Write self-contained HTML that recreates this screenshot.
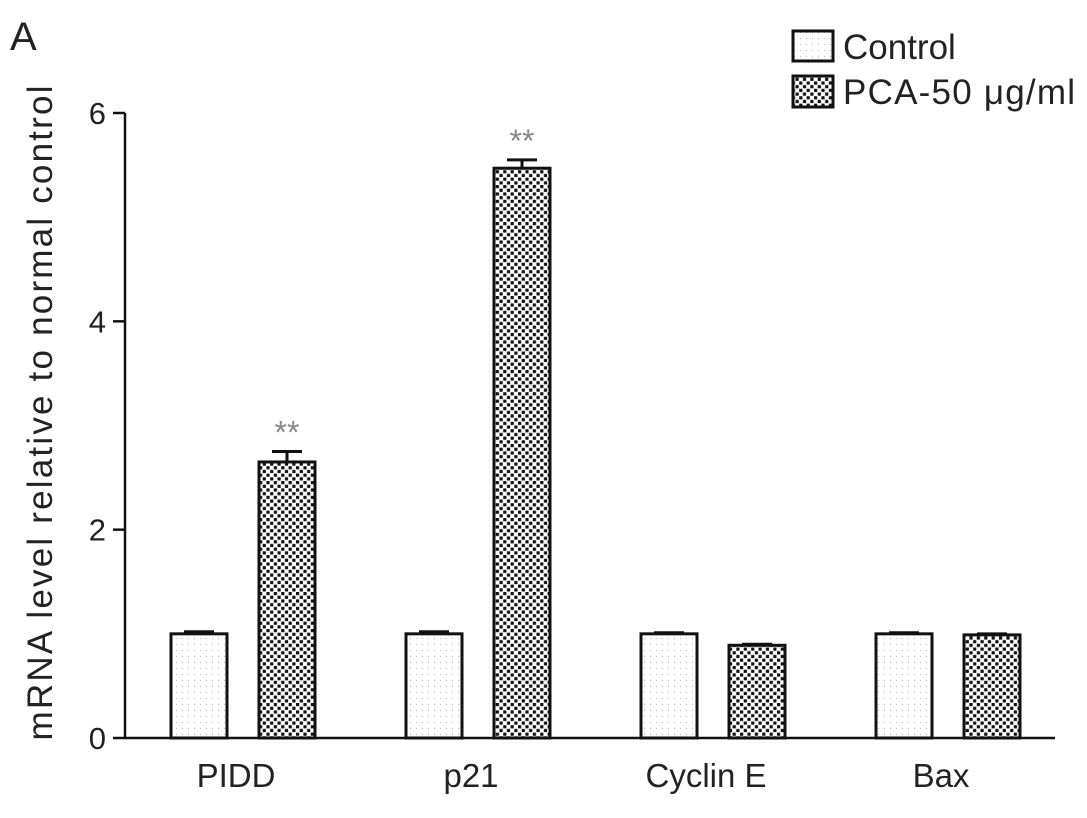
<!DOCTYPE html>
<html><head><meta charset="utf-8"><style>
body{margin:0;background:#fff}
svg text{font-family:"Liberation Sans",sans-serif;fill:#222}
</style></head><body>
<svg width="1087" height="813" xmlns="http://www.w3.org/2000/svg">
<defs>
<pattern id="dots" width="6" height="6" patternUnits="userSpaceOnUse"><rect width="6" height="6" fill="#fff"/><rect x="2" y="2" width="1" height="1" fill="#bbb"/></pattern>
<pattern id="check" width="7.4" height="7.4" patternUnits="userSpaceOnUse"><rect width="7.4" height="7.4" fill="#fff"/><rect x="0" y="0" width="3.2" height="3.2" fill="#111"/><rect x="3.7" y="3.7" width="3.2" height="3.2" fill="#111"/></pattern>
</defs>
<text x="10" y="50" font-size="40">A</text>
<g id="plot"></g>
<g>
<rect x="793" y="31" width="40" height="30" fill="url(#dots)" stroke="#111" stroke-width="3"/>
<text x="843" y="59" font-size="35">Control</text>
<rect x="793" y="76" width="40" height="31" fill="url(#check)" stroke="#111" stroke-width="3"/>
<text x="843" y="104" font-size="35" textLength="232">PCA-50 μg/ml</text>
</g>
<text transform="translate(52,413) rotate(-90)" text-anchor="middle" font-size="35" textLength="655">mRNA level relative to normal control</text>
</svg>
<script>
const categories=["PIDD","p21","Cyclin E","Bax"];
const controlValues=[1.0,1.0,1.0,1.0];
const controlErrors=[0.02,0.02,0.01,0.01];
const pcaValues=[2.65,5.47,0.89,0.99];
const pcaErrors=[0.1,0.08,0.01,0.01];
const pcaSig=["**","**","",""];
const yTicks=[0,2,4,6];
const NS="http://www.w3.org/2000/svg";
const g=document.getElementById('plot');
const y0=738,yTop=113,yMax=6;
function y(v){return y0-(v/yMax)*(y0-yTop);}
function cx(i){return 199+i*235;}
function mk(t,a){const e=document.createElementNS(NS,t);for(const k in a)e.setAttribute(k,a[k]);g.appendChild(e);return e;}
let ax=mk('line',{x1:125,y1:y(yMax),x2:125,y2:y0,stroke:'#111','stroke-width':2.5});


let bx=mk('line',{x1:124,y1:y0,x2:1055,y2:y0,stroke:'#111','stroke-width':2.5});


yTicks.forEach(t=>{
 let l=mk('line',{x1:113,y1:y(t),x2:125,y2:y(t),stroke:'#111','stroke-width':2.5});
 
 
 let tx=mk('text',{x:106,y:y(t)+11,'text-anchor':'end','font-size':31});
 tx.textContent=t;
 
 
});
function bar(xc,v,e,fill,name){
 let ey=mk('line',{x1:xc,y1:y(v+e),x2:xc,y2:y(v),stroke:'#111','stroke-width':3});
 
 
 let ec=mk('line',{x1:xc-15,y1:y(v+e),x2:xc+15,y2:y(v+e),stroke:'#111','stroke-width':3});
 
 
 let r=mk('rect',{x:xc-28,y:y(v),width:56,height:y0-y(v),fill:fill,stroke:'#111','stroke-width':3});
 
 
}
categories.forEach((c,i)=>{
 bar(cx(i),controlValues[i],controlErrors[i],'url(#dots)','bar-control-'+i);
 bar(cx(i)+88,pcaValues[i],pcaErrors[i],'url(#check)','bar-pca-'+i);
 if(pcaSig[i]){let s=mk('text',{x:cx(i)+88,y:y(pcaValues[i]+pcaErrors[i])-8,'text-anchor':'middle','font-size':32});
  s.style.fill='#888';s.textContent=pcaSig[i];
  
  }
 let tx=mk('text',{x:cx(i)+37,y:787,'text-anchor':'middle','font-size':33});
 tx.textContent=c;
 
 
});
</script>
</body></html>
